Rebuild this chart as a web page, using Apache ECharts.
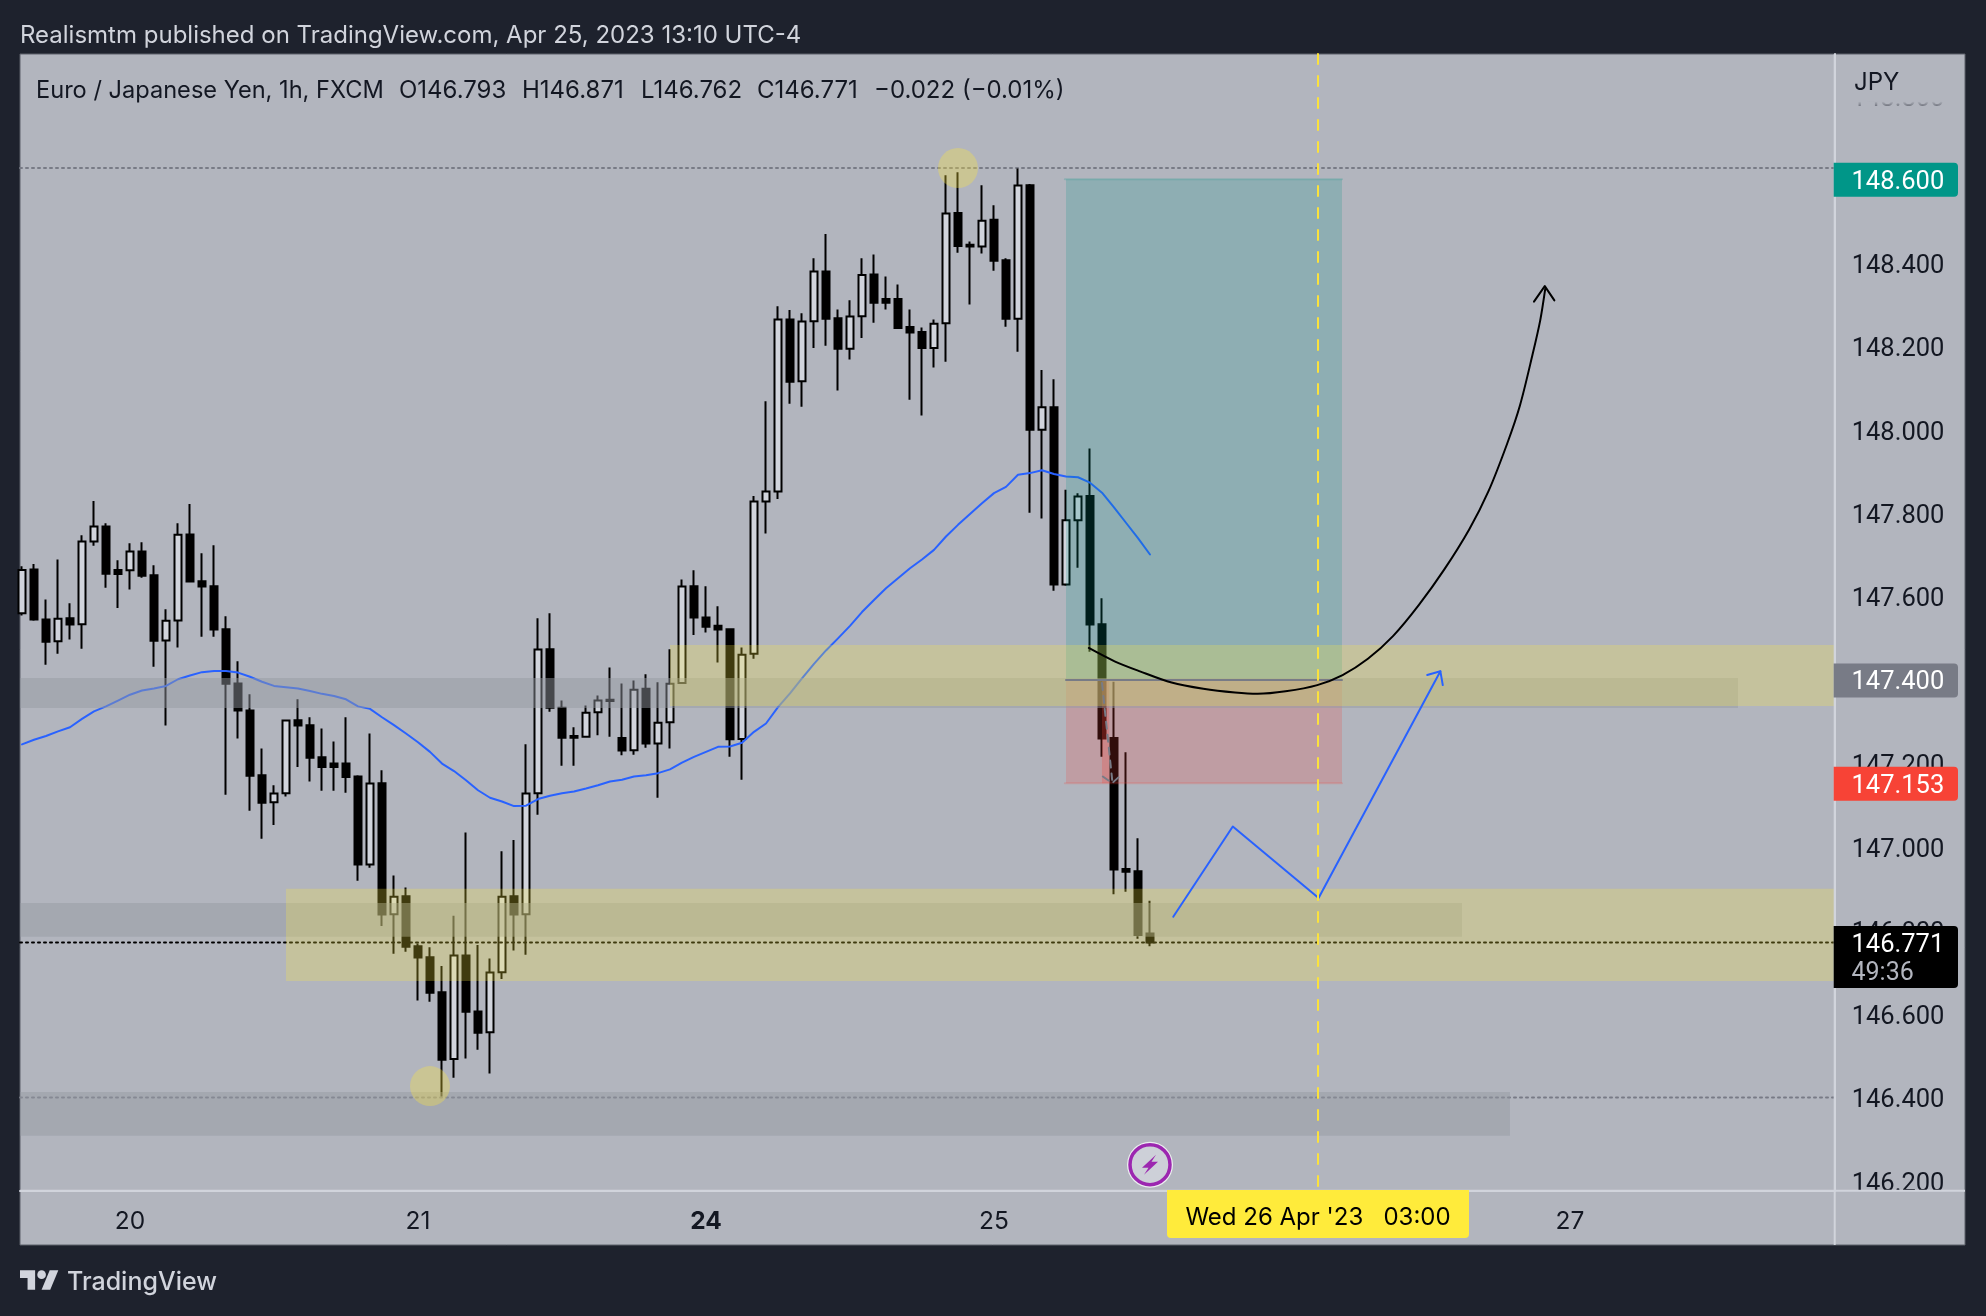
<!DOCTYPE html>
<html><head><meta charset="utf-8">
<style>html,body{margin:0;padding:0;background:#1e222d}#c{width:1986px;height:1316px}</style>
<script src="https://cdn.jsdelivr.net/npm/echarts@6/dist/echarts.min.js"></script>
</head><body><div id="c"></div>
<script>
// ---- hourly candles (index 0..94) ----
const opens=[147.560,147.665,147.545,147.493,147.548,147.534,147.732,147.768,147.664,147.663,147.708,147.651,147.495,147.543,147.749,147.637,147.625,147.522,147.392,147.327,147.172,147.107,147.129,147.304,147.292,147.215,147.200,147.200,147.169,146.958,147.153,146.839,146.882,146.762,146.736,146.652,146.492,146.740,146.606,146.556,146.700,146.882,146.839,147.129,147.474,147.334,147.266,147.264,147.323,147.353,147.261,147.232,147.379,147.248,147.299,147.393,147.625,147.550,147.530,147.522,147.259,147.463,147.828,147.852,148.264,148.116,148.260,148.379,148.267,148.194,148.272,148.372,148.313,148.313,148.246,148.234,148.196,148.255,148.519,148.443,148.439,148.503,148.406,148.266,148.586,148.000,148.054,147.629,147.783,147.841,147.534,147.261,146.947,146.942,146.793];
const highs=[147.673,147.678,147.593,147.689,147.584,147.747,147.829,147.776,147.687,147.728,147.730,147.675,147.570,147.776,147.822,147.704,147.723,147.553,147.445,147.366,147.236,147.148,147.303,147.354,147.311,147.284,147.253,147.311,147.172,147.272,147.184,146.932,146.903,146.769,146.760,146.715,146.835,147.035,146.765,146.733,146.990,147.017,147.246,147.548,147.560,147.351,147.287,147.339,147.363,147.430,147.392,147.399,147.414,147.395,147.474,147.641,147.663,147.625,147.577,147.522,147.478,147.841,148.068,148.296,148.287,148.279,148.411,148.469,148.288,148.310,148.411,148.420,148.367,148.348,148.288,148.245,148.264,148.610,148.617,148.451,148.586,148.538,148.411,148.626,148.589,148.143,148.121,147.856,147.848,147.955,147.596,147.396,147.227,147.021,146.871];
const lows=[147.555,147.542,147.437,147.463,147.497,147.475,147.722,147.621,147.573,147.617,147.645,147.432,147.291,147.478,147.635,147.504,147.504,147.125,147.260,147.087,147.020,147.053,147.121,147.192,147.157,147.135,147.135,147.130,146.919,146.950,146.811,146.744,146.749,146.632,146.629,146.402,146.447,146.493,146.514,146.457,146.684,146.752,146.742,147.077,147.324,147.195,147.195,147.262,147.268,147.264,147.220,147.221,147.238,147.118,147.236,147.392,147.508,147.514,147.442,147.216,147.161,147.451,147.751,147.834,148.062,148.055,148.196,148.201,148.094,148.168,148.220,148.256,148.288,148.244,148.072,148.034,148.149,148.163,148.424,148.300,148.422,148.381,148.247,148.187,147.801,147.787,147.614,147.626,147.669,147.468,147.216,146.887,146.893,146.780,146.762];
const closes=[147.664,147.545,147.492,147.547,147.533,147.732,147.768,147.655,147.654,147.708,147.650,147.494,147.542,147.748,147.636,147.624,147.521,147.391,147.327,147.171,147.106,147.128,147.303,147.291,147.214,147.192,147.192,147.168,146.958,147.152,146.838,146.881,146.761,146.735,146.651,146.490,146.740,146.605,146.555,146.699,146.881,146.838,147.128,147.473,147.334,147.262,147.262,147.322,147.351,147.350,147.231,147.377,147.248,147.298,147.391,147.624,147.550,147.528,147.521,147.258,147.461,147.828,147.852,148.264,148.115,148.259,148.379,148.266,148.194,148.271,148.371,148.304,148.304,148.244,148.233,148.196,148.254,148.518,148.440,148.439,148.501,148.405,148.266,148.585,148.000,148.054,147.629,147.783,147.840,147.533,147.260,146.946,146.941,146.789,146.771];
// ---- moving average, one reading per candle ----
const maValues=[147.246,147.257,147.266,147.277,147.287,147.307,147.325,147.337,147.351,147.365,147.375,147.380,147.386,147.402,147.411,147.419,147.422,147.422,147.418,147.408,147.396,147.386,147.383,147.380,147.374,147.367,147.362,147.354,147.337,147.331,147.311,147.292,147.272,147.251,147.228,147.200,147.182,147.160,147.136,147.118,147.109,147.098,147.099,147.115,147.123,147.129,147.133,147.140,147.148,147.157,147.161,147.169,147.172,147.177,147.186,147.202,147.216,147.228,147.240,147.241,147.250,147.276,147.296,147.335,147.368,147.404,147.439,147.471,147.500,147.530,147.563,147.592,147.620,147.644,147.668,147.689,147.712,147.744,147.772,147.798,147.824,147.848,147.863,147.892,147.896,147.903,147.894,147.888,147.886,147.873,147.849,147.814,147.777,147.740,147.701];
// ---- axes ----
const priceTicks=[146.2,146.4,146.6,146.8,147.0,147.2,147.4,147.6,147.8,148.0,148.2,148.4,148.6,148.8];
const timeTickIndex=[9,33,57,81,129];
const timeTickLabels=['20','21','24','25','27'];
const boldTimeTicks=['24'];
// ---- zones: [fromIndex, toIndex, lowPrice, highPrice] ----
const targetZone=[[87,110,147.4,148.6]];
const stopZone=[[87,110,147.153,147.4]];
const stopStripe=[[90,90.6,147.153,147.4]];
const supplyZones=[[54,151.06,147.338,147.484],[22,151.06,146.679,146.90]];
const greyZones=[[-0.17,143,147.333,147.405],[-0.17,120,146.785,146.866],[-0.17,124,146.308,146.413]];
// ---- horizontal levels and swing markers ----
const highLevel=148.627, lastPrice=146.771, lowLevel=146.4;
const swingPoints=[[78,148.627],[34,146.427]];
const cursorIndex=108;
// ---- hand-drawn paths: [index, price] ----
const blackCurve=[[88.9,147.477],[91.05,147.445],[93.16,147.421],[95.8,147.394],[98.44,147.379],[101.08,147.370],[102.98,147.367],[105.3,147.373],[107.94,147.388],[110.05,147.412],[112.16,147.451],[114.27,147.506],[116.38,147.579],[118.5,147.664],[120.6,147.761],[122.2,147.852],[123.77,147.967],[124.83,148.058],[125.88,148.18],[126.52,148.262],[126.94,148.338]];
const blackHead=[[126,148.307],[126.9,148.344],[127.7,148.31]];
const blueZigzag=[[95.94,146.833],[100.9,147.049],[108.05,146.878],[118.2,147.421]];
const blueHead=[[117.1,147.412],[118.2,147.421],[118.4,147.388]];
const greyArrow=[[90,147.393],[90.85,147.161]];
const greyHead=[[90.07,147.169],[90.85,147.153],[91.67,147.175]];
// ---- text ----
const publishLine='Realismtm published on TradingView.com, Apr 25, 2023 13:10 UTC-4';
const legendName='Euro / Japanese Yen, 1h, FXCM';
const legendValues=['O146.793','H146.871','L146.762','C146.771','\u22120.022 (\u22120.01%)'];
const legendValueX=[399,522,641,757,874];
const priceTags=[{v:148.600,t:'148.600',c:'#009688'},{v:147.400,t:'147.400',c:'#787b86'},{v:147.153,t:'147.153',c:'#f74336'}];
const countdown='49:36';
const cursorLabel="Wed 26 Apr '23   03:00";

const FONT='Inter, "Noto Sans", sans-serif';
const NUM='Roboto, Inter, sans-serif';
const X0=20,X1=1834.7,Y0=54,Y1=1190.7,R=1965,B=1245;
const chart=echarts.init(document.getElementById('c'),null,{renderer:'canvas',width:1986,height:1316});

function zoneSeries(data,color,z){return{type:'custom',z,silent:true,data,encode:{x:[0,1],y:[2,3]},
  renderItem(p,api){const a=api.coord([api.value(0),api.value(3)]),b=api.coord([api.value(1),api.value(2)]);
    return{type:'rect',shape:{x:a[0],y:a[1],width:b[0]-a[0],height:b[1]-a[1]},style:{fill:color}};}};}
function pathSeries(data,color,width,z,extra){return Object.assign({type:'line',data,showSymbol:false,symbol:'none',silent:true,z,
  lineStyle:{color,width,type:(extra&&extra.dash)||'solid',cap:'round',join:'round'},animation:false},extra&&extra.smooth?{smooth:extra.smooth}:{});}

chart.setOption({
  backgroundColor:'#1e222d',animation:false,
  grid:[{left:X0,top:Y0,width:X1-X0,height:Y1-Y0,show:false},
        {left:X0,top:Y0,width:R-X0,height:B-Y0,show:true,backgroundColor:'#b2b5be',borderColor:'#5d606b',borderWidth:1}],
  xAxis:[{type:'value',gridIndex:0,min:-1/6,max:151.06,splitLine:{show:false},axisTick:{show:false},
    axisLine:{show:true,onZero:false,lineStyle:{color:'#d1d4dc',width:2}},
    axisLabel:{customValues:timeTickIndex,margin:18,color:'#131722',fontFamily:FONT,fontSize:24.5,
      formatter:v=>{const s=timeTickLabels[timeTickIndex.indexOf(v)];return boldTimeTicks.includes(s)?'{b|'+s+'}':s;},
      rich:{b:{fontWeight:'bold',fontFamily:FONT,fontSize:24.5,color:'#131722'}}}},
    {type:'value',gridIndex:1,show:false,min:0,max:1}],
  yAxis:[{type:'value',gridIndex:0,position:'right',min:146.1764,max:148.9003,splitLine:{show:false},axisTick:{show:false},
    axisLine:{show:true,onZero:false,lineStyle:{color:'#d1d4dc',width:2}},
    axisLabel:{customValues:priceTicks,margin:17,color:'#131722',fontFamily:NUM,fontSize:25.5,verticalAlign:'top',lineHeight:7,formatter:v=>v.toFixed(3)}},
    {type:'value',gridIndex:1,show:false,min:0,max:1}],
  series:[
    {type:'candlestick',z:2,silent:true,barWidth:8,data:opens.map((o,i)=>[i,o,closes[i],lows[i],highs[i]]),
      itemStyle:{color:'#d1d4dc',color0:'#000000',borderColor:'#000000',borderColor0:'#000000',borderWidth:2}},
    pathSeries(maValues.map((v,i)=>[i,v]),'#2962ff',2,3),
    pathSeries([[-1/6,highLevel],[151.06,highLevel]],'#787b86',2,1,{dash:[2,4]}),
    pathSeries([[-1/6,lowLevel],[151.06,lowLevel]],'#787b86',2,1,{dash:[2,4]}),
    pathSeries([[-1/6,lastPrice],[151.06,lastPrice]],'#000000',2,3,{dash:[2,4]}),
    zoneSeries(targetZone,'rgba(0,150,136,0.2)',4),
    zoneSeries(stopZone,'rgba(244,67,54,0.2)',4),
    zoneSeries(stopStripe,'rgba(244,67,54,0.25)',4),
    zoneSeries(greyZones,'rgba(149,152,161,0.47)',4),
    zoneSeries(supplyZones,'rgba(255,235,59,0.25)',5),
    {type:'scatter',z:5,silent:true,symbolSize:40,data:swingPoints,itemStyle:{color:'rgba(255,230,60,0.32)',opacity:1}},
    pathSeries([[87,147.4],[110,147.4]],'#787b86',2,6),
    pathSeries([[86.9,148.6],[110,148.6]],'rgba(0,150,136,0.2)',2,6),
    pathSeries([[86.9,147.153],[110,147.153]],'rgba(244,67,54,0.2)',2,6),
    pathSeries(blackCurve,'#000000',2,7,{smooth:0.3}),
    pathSeries(blackHead,'#000000',2,7),
    pathSeries(blueZigzag,'#2962ff',2,7),
    pathSeries(blueHead,'#2962ff',2,7),
    pathSeries(greyArrow,'#787b86',2,6,{dash:[7,6]}),
    pathSeries(greyHead,'#787b86',2,6,{dash:[7,6]}),
    pathSeries([[cursorIndex,148.9003],[cursorIndex,146.1764]],'#fbe23c',2,7,{dash:[10,12]})
  ]
});

const py=v=>chart.convertToPixel({yAxisIndex:0},v);
const tagX=X1-1, tagW=1958-tagX, tagH=34;
const textX=1851.5;
const tags=[];
priceTags.forEach(t=>{const y=py(t.v);
  tags.push({type:'rect',z:20,shape:{x:tagX,y:y-tagH/2+0.5,width:tagW,height:tagH,r:[0,4,4,0]},style:{fill:t.c}});
  tags.push({type:'text',z:21,style:{x:textX,y:y+3,text:t.t,fill:'#fff',font:'25.5px '+NUM,textAlign:'left',textVerticalAlign:'middle'}});
});
const yl=py(lastPrice);
tags.push({type:'rect',z:20,shape:{x:tagX,y:yl-16.5,width:tagW,height:62,r:[0,4,4,0]},style:{fill:'#000'}});
tags.push({type:'text',z:21,style:{x:textX,y:yl+3,text:lastPrice.toFixed(3),fill:'#fff',font:'25.5px '+NUM,textAlign:'left',textVerticalAlign:'middle'}});
tags.push({type:'text',z:21,style:{x:textX,y:yl+31,text:countdown,fill:'#b2b5be',font:'25px '+NUM,textAlign:'left',textVerticalAlign:'middle'}});

chart.setOption({graphic:{elements:[
  // frame extensions of the axis lines
  {type:'line',z:9,shape:{x1:X1,y1:Y0,x2:X1,y2:B},style:{stroke:'#d1d4dc',lineWidth:2}},
  {type:'line',z:9,shape:{x1:X0,y1:Y1,x2:R,y2:Y1},style:{stroke:'#d1d4dc',lineWidth:2}},
  // fade over clipped top tick
  {type:'rect',z:10,shape:{x:X1+2,y:Y0+1,width:R-X1-3,height:58},style:{fill:{type:'linear',x:0,y:0,x2:0,y2:1,
    colorStops:[{offset:0,color:'#b2b5be'},{offset:0.8,color:'#b2b5be'},{offset:1,color:'rgba(178,181,190,0)'}]}}},
  {type:'text',z:11,style:{x:1854,y:83,text:'JPY',fill:'#131722',font:'24px '+FONT,textAlign:'left',textVerticalAlign:'middle'}},
  ...tags,
  // header
  {type:'text',z:21,style:{x:20,y:36,text:publishLine,fill:'#d1d4dc',font:'24px '+FONT,textAlign:'left',textVerticalAlign:'middle'}},
  {type:'text',z:21,style:{x:36,y:91,text:legendName,fill:'#131722',font:'23.6px '+FONT,textAlign:'left',textVerticalAlign:'middle'}},
  ...legendValues.map((t,i)=>({type:'text',z:21,style:{x:legendValueX[i],y:91,text:t,fill:'#131722',font:'24px '+FONT,textAlign:'left',textVerticalAlign:'middle'}})),
  // cursor time label
  {type:'rect',z:20,shape:{x:1167,y:1190,width:302,height:48,r:[0,0,4,4]},style:{fill:'#ffeb3b'}},
  {type:'text',z:21,style:{x:1318,y:1218,text:cursorLabel,fill:'#000',font:'24px '+FONT,textAlign:'center',textVerticalAlign:'middle'}},
  // lightning badge
  {type:'group',z:22,x:1150,y:1164.7,children:[
    {type:'circle',shape:{cx:0,cy:0,r:23},style:{fill:'#eceef1'}},
    {type:'circle',shape:{cx:0,cy:0,r:20},style:{fill:'#cdd0d8',stroke:'#9c27b0',lineWidth:3.5}},
    {type:'polygon',shape:{points:[[6,-10],[-8,3],[-1.5,3],[-6,10],[8,-3],[1.5,-3]]},style:{fill:'#9c27b0'}}
  ]},
  // logo
  {type:'group',z:21,x:20,y:1266,scaleX:1.08,scaleY:1.08,children:[
    {type:'polygon',shape:{points:[[14,22],[7,22],[7,11],[0,11],[0,4],[14,4]]},style:{fill:'#d1d4dc'}},
    {type:'polygon',shape:{points:[[28,22],[20,22],[27.5,4],[35.5,4]]},style:{fill:'#d1d4dc'}},
    {type:'circle',shape:{cx:20,cy:8,r:4},style:{fill:'#d1d4dc'}}
  ]},
  {type:'text',z:21,style:{x:67,y:1282,text:'TradingView',fill:'#d1d4dc',font:'500 25px '+FONT,textAlign:'left',textVerticalAlign:'middle'}}
]}});
</script></body></html>
